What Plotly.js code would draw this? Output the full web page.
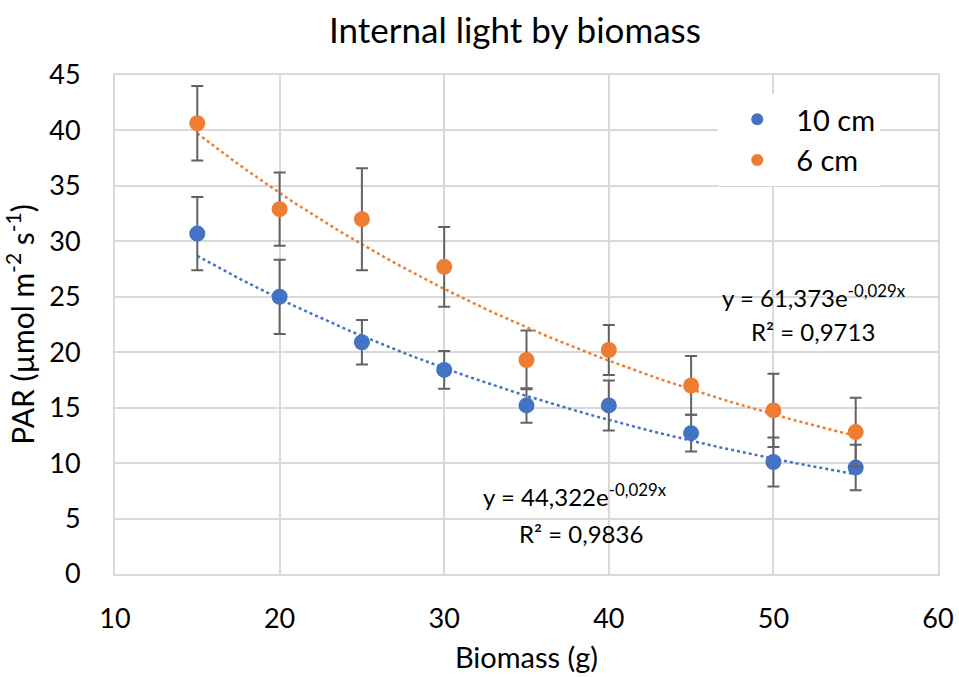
<!DOCTYPE html>
<html><head><meta charset="utf-8">
<script src="https://cdn.plot.ly/plotly-3.0.1.min.js"></script>
<style>html,body{margin:0;padding:0;background:#fff}#c{width:959px;height:677px}</style>
</head><body><div id="c"></div>
<script>
const biomass = [15, 20, 25, 30, 35, 40, 45, 50, 55];
const par10 = [30.7, 25.0, 20.9, 18.4, 15.2, 15.2, 12.7, 10.1, 9.6];
const err10 = [3.3, 3.35, 2.0, 1.7, 1.55, 2.25, 1.65, 2.2, 2.05];
const par6 = [40.65, 32.9, 32.0, 27.7, 19.3, 20.2, 17.0, 14.75, 12.8];
const err6 = [3.35, 3.3, 4.6, 3.6, 2.65, 2.25, 2.65, 3.3, 3.1];
// Trendline coefficients shown on the chart: y = a * e^(b x)
const fit10 = {a: 44.322, b: -0.029};
const fit6 = {a: 61.373, b: -0.029};
const xTicks = [10, 20, 30, 40, 50, 60];
const yTicks = [0, 5, 10, 15, 20, 25, 30, 35, 40, 45];

const FONT = 'Lato, "Open Sans", sans-serif';
const blue = '#4472C4', orange = '#ED7D31', errc = '#636363';

function trend(fit) {
  const xs = [], ys = [];
  for (let x = biomass[0]; x <= biomass[biomass.length - 1] + 1e-9; x += 0.5) {
    xs.push(x); ys.push(fit.a * Math.exp(fit.b * x));
  }
  return {xs, ys};
}
const t10 = trend(fit10), t6 = trend(fit6);

const traces = [
  {x: t10.xs, y: t10.ys, mode: 'lines', line: {color: blue, dash: 'dot', width: 2.5}, showlegend: false, hoverinfo: 'skip'},
  {x: t6.xs, y: t6.ys, mode: 'lines', line: {color: orange, dash: 'dot', width: 2.5}, showlegend: false, hoverinfo: 'skip'},
  {x: biomass, y: par10, name: '10 cm', mode: 'markers', marker: {color: blue, size: 16},
   error_y: {type: 'data', array: err10, visible: true, color: errc, thickness: 2, width: 6}},
  {x: biomass, y: par6, name: '6 cm', mode: 'markers', marker: {color: orange, size: 16},
   error_y: {type: 'data', array: err6, visible: true, color: errc, thickness: 2, width: 6}}
];

const layout = {
  width: 959, height: 677,
  margin: {l: 115, r: 21, t: 75, b: 103},
  paper_bgcolor: '#fff', plot_bgcolor: '#fff',
  font: {family: FONT, color: '#000', size: 26},
  title: {text: 'Internal light by biomass', x: 0.537, xanchor: 'center', y: 0.955, yanchor: 'middle', font: {size: 35, family: FONT}},
  xaxis: {range: [10, 60], tickvals: xTicks, ticktext: xTicks.map(String), showgrid: true, gridcolor: '#d9d9d9', gridwidth: 2,
    zeroline: false, showline: true, linecolor: '#d9d9d9', linewidth: 2, mirror: true, ticks: '', ticklabelstandoff: 20,
    tickfont: {size: 27}, title: {text: 'Biomass (g)', font: {size: 29}, standoff: 14}},
  yaxis: {range: [0, 45], tickvals: yTicks, ticktext: yTicks.map(String), showgrid: true, gridcolor: '#d9d9d9', gridwidth: 2,
    zeroline: false, showline: true, linecolor: '#d9d9d9', linewidth: 2, mirror: true, ticks: '', ticklabelstandoff: 27,
    tickfont: {size: 27}, title: {text: 'PAR (µmol m<sup>-2</sup> s<sup>-1</sup>)', font: {size: 30}, standoff: 9}},
  legend: {x: 0.733, y: 0.962, xanchor: 'left', yanchor: 'top', bgcolor: '#fff', borderwidth: 0,
    font: {size: 29}, itemwidth: 68, itemsizing: 'constant', tracegroupgap: 0},
  annotations: [
    {xref: 'paper', yref: 'paper', x: (814 - 115) / 823, y: (574 - 296) / 499, xanchor: 'center', yanchor: 'middle', text: 'y = 61,373e<sup>-0,029x</sup>', showarrow: false, font: {size: 24}},
    {xref: 'paper', yref: 'paper', x: (813 - 115) / 823, y: (574 - 331) / 499, xanchor: 'center', yanchor: 'middle', text: 'R² = 0,9713', showarrow: false, font: {size: 24}},
    {xref: 'paper', yref: 'paper', x: (575 - 115) / 823, y: (574 - 495) / 499, xanchor: 'center', yanchor: 'middle', text: 'y = 44,322e<sup>-0,029x</sup>', showarrow: false, font: {size: 24}},
    {xref: 'paper', yref: 'paper', x: (581 - 115) / 823, y: (574 - 533) / 499, xanchor: 'center', yanchor: 'middle', text: 'R² = 0,9836', showarrow: false, font: {size: 24}}
  ]
};
Plotly.newPlot('c', traces, layout, {displayModeBar: false, staticPlot: true});
</script></body></html>
